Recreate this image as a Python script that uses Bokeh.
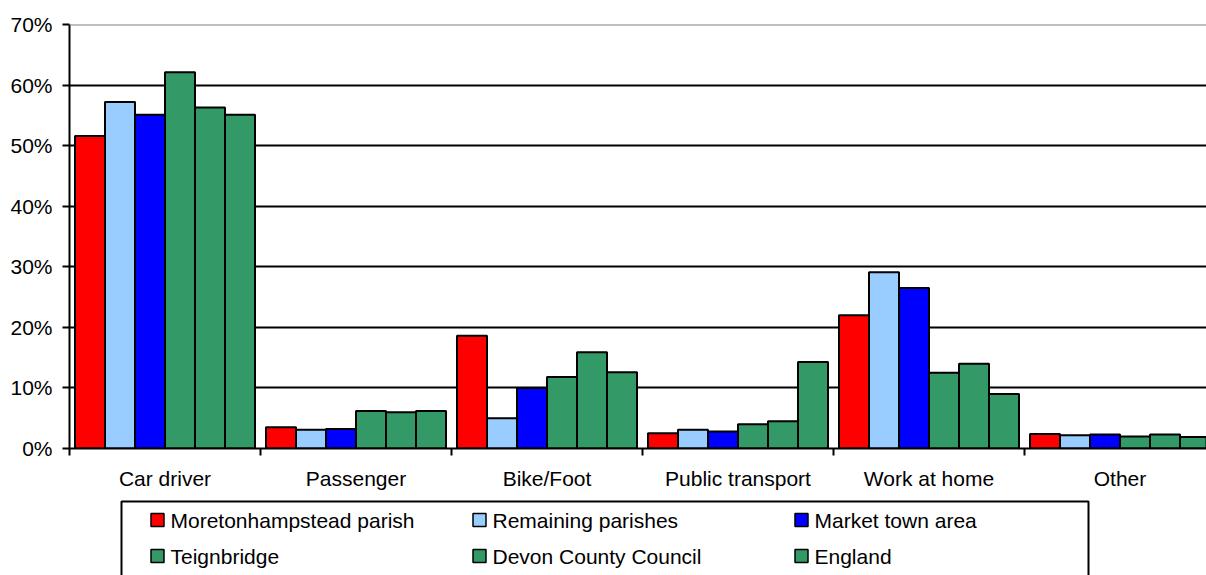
from bokeh.plotting import figure
from bokeh.models import Range1d, FixedTicker, Span, PrintfTickFormatter
from bokeh.layouts import column
from bokeh.embed import file_html
from bokeh.resources import INLINE
from bokeh.core.properties import value

categories = ["Car driver", "Passenger", "Bike/Foot", "Public transport", "Work at home", "Other"]
series_names = ["Moretonhampstead parish", "Remaining parishes", "Market town area",
                "Teignbridge", "Devon County Council", "England"]
moretonhampstead = [51.6, 3.5, 18.6, 2.5, 22.0, 2.4]
remaining = [57.2, 3.1, 5.0, 3.1, 29.1, 2.2]
market_town = [55.1, 3.2, 10.0, 2.8, 26.5, 2.3]
teignbridge = [62.1, 6.2, 11.8, 4.0, 12.5, 2.0]
devon = [56.3, 6.0, 15.9, 4.5, 14.0, 2.3]
england = [55.1, 6.2, 12.6, 14.3, 9.0, 1.9]
y_ticks = [0, 10, 20, 30, 40, 50, 60, 70]

series = [moretonhampstead, remaining, market_town, teignbridge, devon, england]
colors = ["#FF0000", "#99CCFF", "#0000FF", "#339966", "#339966", "#339966"]

FONT = "Liberation Sans"
FS = "21px"

W = 1206
LEFT = 69
PITCH = 191.0
x_end = (W - LEFT) / PITCH
bw = 30.0 / PITCH

H1 = 494
p = figure(width=W, height=H1, output_backend="svg", toolbar_location=None,
           x_range=Range1d(0, x_end), y_range=Range1d(0, 70),
           min_border_left=LEFT, min_border_top=24, min_border_right=0, min_border_bottom=46)
p.outline_line_color = None
p.background_fill_color = "white"

centers = [i + 0.5 for i in range(len(categories))]
for j, (vals, col) in enumerate(zip(series, colors)):
    xs = [c + (j - 2.5) * bw for c in centers]
    p.vbar(x=xs, top=vals, width=bw, fill_color=col, line_color="black", line_width=2)

# y axis
p.yaxis.ticker = FixedTicker(ticks=y_ticks)
p.yaxis.formatter = PrintfTickFormatter(format="%d%%")
p.yaxis.axis_line_width = 2
p.yaxis.major_tick_line_width = 2
p.yaxis.major_tick_out = 7
p.yaxis.major_tick_in = 0
p.yaxis.minor_tick_line_color = None
p.yaxis.major_label_standoff = 10
p.yaxis.major_label_text_font = FONT
p.yaxis.major_label_text_font_size = FS
p.yaxis.major_label_text_color = "black"

# x axis: labels at centres, ticks at boundaries
p.xaxis.ticker = FixedTicker(ticks=centers, minor_ticks=list(range(len(categories) + 1)))
p.xaxis.major_label_overrides = {c: name for c, name in zip(centers, categories)}
p.xaxis.axis_line_width = 2
p.xaxis.major_tick_line_color = None
p.xaxis.major_tick_out = 0
p.xaxis.major_tick_in = 0
p.xaxis.minor_tick_line_width = 2
p.xaxis.minor_tick_line_color = "black"
p.xaxis.minor_tick_out = 7
p.xaxis.minor_tick_in = 0
p.xaxis.major_label_standoff = 11
p.xaxis.major_label_text_font = FONT
p.xaxis.major_label_text_font_size = FS
p.xaxis.major_label_text_color = "black"

p.xgrid.visible = False
p.ygrid.ticker = FixedTicker(ticks=y_ticks[1:-1])
p.ygrid.grid_line_color = "black"
p.ygrid.grid_line_width = 2
p.add_layout(Span(location=70, dimension="width", line_color="#808080", line_width=2))

# legend figure (frame aligned with the chart frame; data units = page pixels)
H2 = 575 - H1
p2 = figure(width=W, height=H2, output_backend="svg", toolbar_location=None,
            x_range=Range1d(LEFT, W), y_range=Range1d(575, H1),
            x_axis_type=None, y_axis_type=None,
            min_border_left=LEFT, min_border_right=0, min_border_top=0, min_border_bottom=0)
p2.outline_line_color = None
p2.grid.visible = False
p2.line(x=[121, 121, 1088, 1088], y=[620, 501, 501, 620], line_color="black", line_width=2)

col_x = [157, 479, 801]
row_y = [519.5, 555.5]
lx, ly, lc, tx = [], [], [], []
for k, (name, c) in enumerate(zip(series_names, colors)):
    r, cidx = divmod(k, 3)
    lx.append(col_x[cidx]); ly.append(row_y[r]); lc.append(c); tx.append(col_x[cidx] + 13)
p2.scatter(x=lx, y=ly, marker="square", size=13, fill_color=lc, line_color="black", line_width=1.5)
p2.text(x=tx, y=ly, text=series_names, text_font=value(FONT), text_font_size=FS,
        text_baseline="middle", text_align="left", text_color="black")

layout = column(p, p2, spacing=0)
open("out.html", "w").write(file_html(layout, INLINE))
